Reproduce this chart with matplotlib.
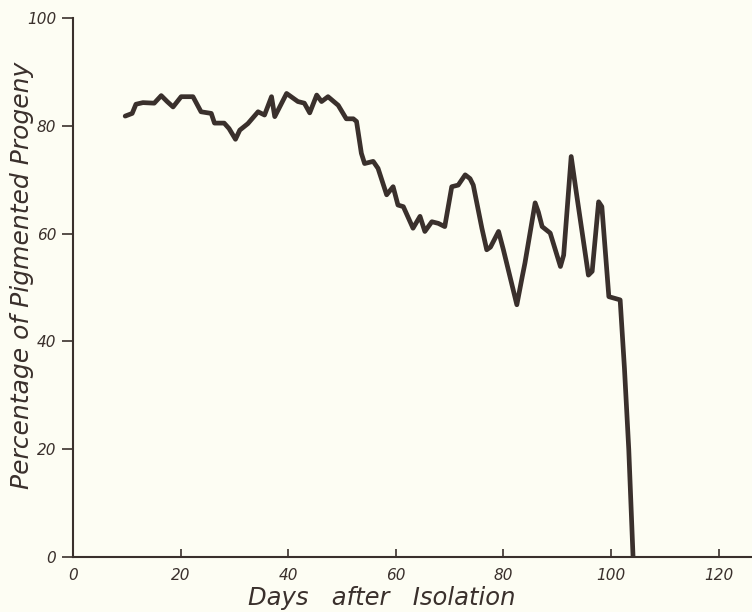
import matplotlib
matplotlib.use("Agg")
import matplotlib.pyplot as plt

days = [9.7, 11.0, 11.7, 13.0, 15.1, 16.4, 17.5, 18.6, 20.1, 22.3, 23.8, 25.7, 26.3,
        28.1, 29.0, 30.2, 31.0, 32.5, 34.4, 35.6, 36.9, 37.5, 39.7, 41.8, 43.0, 44.0,
        45.3, 46.2, 47.4, 49.3, 50.8, 52.1, 52.7, 53.6, 54.2, 55.8, 56.7, 58.3, 59.5,
        60.4, 61.4, 63.2, 64.5, 65.4, 66.7, 67.9, 69.1, 70.4, 71.6, 72.9, 73.8, 74.4,
        76.0, 76.9, 77.6, 79.1, 80.0, 82.5, 83.5, 84.0, 85.9, 86.5, 87.2, 88.7, 90.6,
        91.2, 92.6, 93.5, 95.8, 96.5, 97.7, 98.3, 99.6, 101.7, 102.5, 103.3, 104.1]
pct = [81.8, 82.3, 84.0, 84.3, 84.2, 85.6, 84.5, 83.5, 85.4, 85.4, 82.6, 82.3, 80.5,
       80.5, 79.5, 77.5, 79.2, 80.4, 82.6, 82.0, 85.4, 81.7, 86.0, 84.5, 84.2, 82.4,
       85.7, 84.5, 85.4, 83.8, 81.3, 81.3, 80.8, 74.9, 73.0, 73.4, 72.1, 67.2, 68.7,
       65.3, 65.0, 61.0, 63.2, 60.4, 62.2, 61.9, 61.3, 68.7, 69.0, 70.9, 70.2, 69.0,
       61.0, 57.0, 57.5, 60.4, 57.0, 46.8, 52.0, 54.5, 65.7, 64.0, 61.3, 60.1, 53.9,
       56.0, 74.3, 68.0, 52.3, 53.0, 65.9, 65.0, 48.3, 47.7, 35.0, 20.0, 0.0]

x_ticks = [0, 20, 40, 60, 80, 100, 120]
y_ticks = [0, 20, 40, 60, 80, 100]

bg = "#fdfdf3"
ink = "#3a302c"

fig = plt.figure(figsize=(7.52, 6.12), dpi=100, facecolor=bg)
ax = fig.add_axes([73/752, 55/612, 1 - 73/752, (557 - 18)/612])
ax.set_facecolor(bg)

ax.plot(days, pct, color=ink, lw=3.4, solid_joinstyle="round", solid_capstyle="round")

ax.set_xlim(0, (752 - 73) / 5.38)
ax.set_ylim(0, 100)
for s in ["top", "right"]:
    ax.spines[s].set_visible(False)
for s in ["left", "bottom"]:
    ax.spines[s].set_color(ink)
    ax.spines[s].set_linewidth(1.5)

ax.set_xticks(x_ticks)
ax.set_xticklabels([str(v) for v in x_ticks], fontstyle="italic", fontsize=11, color=ink)
ax.set_yticks(y_ticks)
ax.set_yticklabels([str(v) for v in y_ticks], fontstyle="italic", fontsize=11, color=ink)
ax.tick_params(axis="x", direction="in", length=6, width=1.2, color=ink, pad=8)
ax.tick_params(axis="y", direction="out", length=8, width=1.2, color=ink, pad=4)

fig.text(382/752, 1 - 598/612, "Days   after   Isolation", fontstyle="italic", fontsize=17.5,
         color=ink, ha="center", va="center")
fig.text(22/752, 1 - 275/612, "Percentage of Pigmented Progeny", fontstyle="italic",
         fontsize=18, color=ink, ha="center", va="center", rotation=90)

fig.savefig("out.png", dpi=100, facecolor=bg)
